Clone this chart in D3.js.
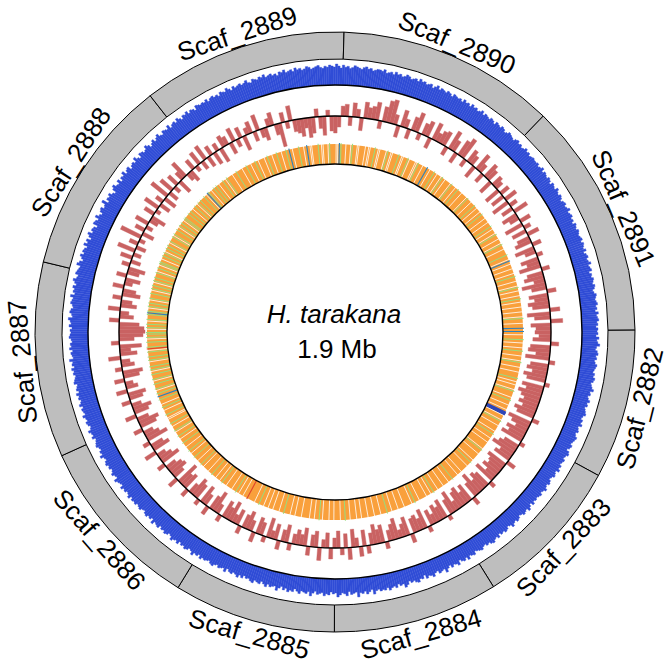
<!DOCTYPE html>
<html>
<head>
<meta charset="utf-8">
<script src="https://cdn.jsdelivr.net/npm/d3@7"></script>
<style>
  html, body { margin: 0; padding: 0; background: #ffffff; }
  svg { display: block; }
  text { font-family: "Liberation Sans", Arial, Helvetica, sans-serif; }
</style>
</head>
<body>
<script>
// ---------------- DATA ----------------
const scaffolds = ["Scaf_2882","Scaf_2883","Scaf_2884","Scaf_2885","Scaf_2886",
                   "Scaf_2887","Scaf_2888","Scaf_2889","Scaf_2890","Scaf_2891"];
const scaffoldKb = [153,156,169,166,180,200,203,210,223,241];
const genomeTitle = "H. tarakana";
const genomeSize = "1.9 Mb";

// outer blue track (windows, clockwise from the start of Scaf_2882)
const blueVals = [
15,16,14,17,15,16,18,15,14,16,17,15,16,14,15,17,16,15,14,16,15,17,16,14,15,16,18,15,16,14,15,17,15,16,14,15,16,17,15,14,
16,15,17,14,15,16,14,15,17,16,15,14,16,15,13,16,17,15,14,16,15,14,16,15,17,14,15,16,14,13,15,16,14,15,17,15,14,16,15,14,
15,14,16,13,15,17,14,15,16,14,13,15,16,14,15,17,14,13,15,16,14,15,13,16,14,15,17,16,14,15,13,14,16,15,14,13,16,15,14,17,
14,16,15,13,17,15,14,16,13,15,18,14,15,16,13,14,17,15,14,16,12,15,14,17,16,14,15,13,16,18,14,15,13,16,14,15,17,14,16,15,
16,14,15,18,13,15,17,14,16,15,19,14,15,16,13,17,15,14,16,18,14,15,13,16,15,17,14,15,16,13,15,18,14,16,15,14,17,15,13,16,
15,17,14,16,13,15,18,14,15,16,14,17,15,13,16,15,14,17,16,14,15,13,16,14,17,15,14,16,15,13,17,14,15,16,14,15,17,16,14,15,
16,15,17,14,16,15,18,15,14,16,17,15,16,14,17,15,16,18,15,14,16,17,15,16,14,17,16,15,18,14,16,15,17,16,14,15,17,16,15,17,
16,17,15,18,16,15,17,16,18,15,16,17,19,15,16,18,16,15,17,16,18,17,15,16,19,16,17,15,16,18,17,16,15,18,16,17,19,16,15,17,
18,16,17,19,16,17,18,16,19,17,16,18,17,19,16,18,17,16,19,18,17,16,18,17,19,16,18,17,20,16,17,18,16,19,17,18,16,17,19,18,
17,18,16,19,17,18,20,16,17,19,18,16,17,19,18,17,20,16,18,17,19,16,18,20,17,16,19,18,17,16,20,18,15,17,19,16,18,17,15,19,
16,18,14,17,19,15,17,16,13,18,17,15,19,16,14,17,18,15,16,20,14,17,16,18,15,13,17,19,16,15,18,14,17,16,19,15,17,18,14,16,
17,15,19,16,14,18,17,15,16,19,17,14,16,18,15,17,19,16,15,18,17,16,19,15,17,18,16,19,17,15,18,17,19,16,18,17,15,19,18,17,
18,17,19,16,18,19,17,18,16,19,18,17,20,18,16,19,17,18,19,17,18,20,17,16,19,18,17,19,18,20,17,18,19,17,18,16,19,18,20,17,
18,19,17,20,18,19,17,18,20,19,17,18,19,20,18,17,19,18,20,19,18,21,19,17,20,18,19,17,18,20,19,18,17,19,20,18,19,17,18,19,
19,18,20,17,18,19,17,20,18,19,17,18,20,19,17,18,19,17,20,18,19,17,18,19,16,18,20,17,19,18,17,19,18,16,19,18,17,18,16,19,
17,18,16,19,17,18,16,17,19,16,18,17,16,18,17,15,18,17,16,18,17,15,16,18,17,16,15,17,18,16,17,15,16,18,16,17,15,16,17,16,
16,17,15,16,18,15,17,16,15,17,16,14,17,16,15,18,16,15,17,16,14,16,17,15,16,18,15,16,17,15,16,14,17,16,15,17,16,15,16,17,
15,17,16,15,17,14,16,17,15,16,18,15,16,17,14,16,15,17,16,15,17,16,14,15,17,16,15,16,17,15,16,14,17,15,16,17,15,16,14,16
];

// middle red track: signed deviation from the black baseline (+ outward, - inward)
const redVals = [
-16,-12,-18,8,-20,-22,-14,-24,6,-18,-21,-15,-23,-19,5,-22,-17,-24,-20,-16,
-20,-15,-22,-18,7,-24,-19,-13,-21,-17,-23,5,-16,-20,-25,-14,-18,9,-21,-17,
-15,-19,-12,-22,6,-17,-20,-14,-24,-16,8,-19,-13,-21,-18,-10,-23,-16,5,-20,
-14,-18,-10,-16,6,-20,-12,-17,-15,9,-19,-13,-8,-21,-16,-11,7,-18,-14,-20,
-12,8,-16,10,-9,-18,12,-14,7,-17,-10,11,-15,-8,13,-16,-12,9,-18,-11,
-15,-10,7,-18,-12,9,-16,-8,-20,6,-13,-17,10,-11,-19,-14,8,-16,-9,-21,
-13,-18,7,-10,-22,-15,9,-12,-19,6,-16,-20,-11,8,-17,-14,-23,10,-12,-18,
-16,-11,8,-20,-14,-9,12,-18,-13,7,-22,-15,-10,9,-17,-21,-12,11,-15,-19,
-10,9,-14,-18,11,-12,-8,10,-16,-20,7,-13,-9,12,-17,-11,-22,8,-15,-24,
-26,-25,-20,10,-14,-9,12,-16,-11,9,-18,-13,11,-8,-15,10,-12,-17,8,-10,
12,-8,18,-10,9,-6,22,-12,10,-7,14,-9,-15,11,-5,16,-11,8,-13,20,
-10,15,-7,12,-14,9,18,-8,-12,11,-6,14,-9,16,-11,10,-13,8,-15,12,
9,-12,14,-8,11,-15,7,12,-10,16,-9,-13,8,13,-11,-24,10,-7,15,-12,
-14,-18,-10,-20,-16,8,-12,-19,6,-15,-17,-11,10,12,-9,14,8,-13,16,11,
13,18,-8,15,22,24,10,-12,17,9,-10,14,20,-7,12,16,-11,18,9,13,
15,-9,20,12,-11,17,22,-8,14,10,-13,18,9,-10,16,12,-14,11,8,-16,
10,-14,13,-18,8,-12,15,-16,-10,11,-19,7,-15,12,-13,-17,9,-20,-11,6,
-18,-13,-22,8,-16,-20,-11,-24,-15,9,-19,-14,-21,-17,10,-23,-16,12,-20,-15
];

// inner gene track: one category code per window
// o = orange, w = gap, g = green, b = blue, B = dark blue, r = red
const geneRows = [
"bowoogowoowogoowoowgoowoowooogowowoowgoo",
"owogoowoowoBBwoowgoowooowogoowoowoooowgo",
"owoooowogoowoooowoowooogoowooowooowoogow",
"oowoooowoogowoooowooowooowoogooowooowooo",
"wooowoowooowoogoowooowoowooowogoowoowooo",
"owooowoowooogoowooowoowoowoogoowooooroow",
"oowogoowooowoogowoowoogoowooowogoowoogoo",
"wogoowoogoowogoowgoowogoowwogoowogowoogo",
"bogowgoogowgoogowgogoowgogoogwrgoogowgog",
"gowgogowgoogbgowgogowgoogowgogowgogoogwo",
"gowggowogogwogogowgoogwgoogowgogowggoogo",
"gowogowgogoogowbgowogogowoogowgooowoogoo",
"owoogoowoogowooowogoowoogoowoogobowooogo",
"owobowwooogowwoowgooowwbgoowoowgoowwooow",
"owwoogowwooowgowwooogowwoogwooowwgoowoob",
"owoogowoowgowooowgoowogoowooowgoowoogowo",
"owogoowoowoogowoowgoowoowgoowooogoowbowo",
"owoowogoowoowgowoowogowoowoowoowgoowoobo"
];
const geneTypes = geneRows.join("").split("");
const geneColors = { w: "#ffffff", g: "#96DE7E", b: "#2B82BE", B: "#2F47B8", r: "#E0452C" };
const geneWidths = { w: 0.8, g: 1.0, b: 1.1, B: 2.4, r: 1.1 };

// ---------------- LAYOUT ----------------
const W = 668, H = 666, cx = 335, cy = 332;
const startDeg = 89.6;
const R = { ringIn: 273, ringOut: 300, label: 314,
            blueBase: 247, redBase: 216, geneIn: 168, geneOut: 188 };

const svg = d3.select("body").append("svg").attr("width", W).attr("height", H);
const g = svg.append("g").attr("transform", `translate(${cx},${cy})`);

const total = d3.sum(scaffoldKb);
const a0 = startDeg * Math.PI / 180;
const ang = d3.scaleLinear().domain([0, total]).range([a0, a0 + 2 * Math.PI]);
const ends = d3.cumsum(scaffoldKb);
const starts = ends.map((e, i) => e - scaffoldKb[i]);

const arc = d3.arc();

// ---- outer scaffold ring ----
g.append("g").selectAll("path").data(scaffolds).join("path")
  .attr("d", (d, i) => arc({ innerRadius: R.ringIn, outerRadius: R.ringOut,
                             startAngle: ang(starts[i]), endAngle: ang(ends[i]) }))
  .attr("fill", "#BEBEBE").attr("stroke", "#000").attr("stroke-width", 1);

// ---- scaffold labels ----
g.append("g").selectAll("text").data(scaffolds).join("text")
  .attr("transform", (d, i) => {
    const deg = ang((starts[i] + ends[i]) / 2) * 180 / Math.PI % 360;
    const flip = deg > 90 && deg < 255;
    return `rotate(${deg}) translate(0,${-R.label})` + (flip ? " rotate(180)" : "");
  })
  .attr("text-anchor", "middle")
  .attr("dominant-baseline", "central")
  .attr("font-size", 26)
  .attr("fill", "#000")
  .text(d => d);

// ---- blue track ----
const blueR = d3.scaleLinear().domain([0, 25]).range([R.blueBase, R.blueBase + 25]);
const bStep = total / blueVals.length;
g.append("g").selectAll("path").data(blueVals).join("path")
  .attr("d", (v, i) => arc({ innerRadius: R.blueBase, outerRadius: blueR(v),
                             startAngle: ang(i * bStep), endAngle: ang((i + 1) * bStep) }))
  .attr("fill", "#2F4CD6").attr("stroke", "#2F4CD6").attr("stroke-width", 0.4);
g.append("circle").attr("r", R.blueBase).attr("fill", "none")
  .attr("stroke", "#000").attr("stroke-width", 1.4);

// ---- red track ----
const redR = d3.scaleLinear().domain([-30, 30]).range([R.redBase - 30, R.redBase + 30]);
const rStep = total / redVals.length;
g.append("g").selectAll("path").data(redVals).join("path")
  .attr("d", (v, i) => arc({ innerRadius: Math.min(R.redBase, redR(v)),
                             outerRadius: Math.max(R.redBase, redR(v)),
                             startAngle: ang(i * rStep), endAngle: ang((i + 1) * rStep) }))
  .attr("fill", "#C96262").attr("stroke", "#C96262").attr("stroke-width", 0.4);
g.append("circle").attr("r", R.redBase).attr("fill", "none")
  .attr("stroke", "#000").attr("stroke-width", 1.4);

// ---- gene track ----
g.append("path")
  .attr("d", arc({ innerRadius: R.geneIn, outerRadius: R.geneOut, startAngle: 0, endAngle: 2 * Math.PI }))
  .attr("fill", "#F9A03C");
const gStep = total / geneTypes.length;
const geneMarks = geneTypes.map((t, i) => ({ t, a: ang((i + 0.5) * gStep) })).filter(d => d.t !== "o");
g.append("g").selectAll("line").data(geneMarks).join("line")
  .attr("x1", d => R.geneIn * Math.sin(d.a))
  .attr("y1", d => -R.geneIn * Math.cos(d.a))
  .attr("x2", d => (R.geneOut + 1) * Math.sin(d.a))
  .attr("y2", d => -(R.geneOut + 1) * Math.cos(d.a))
  .attr("stroke", d => geneColors[d.t])
  .attr("stroke-width", d => geneWidths[d.t]);
g.append("circle").attr("r", R.geneIn).attr("fill", "#fff")
  .attr("stroke", "#000").attr("stroke-width", 1.4);

// ---- centre text ----
g.append("text").attr("x", -1).attr("y", -9).attr("text-anchor", "middle")
  .attr("font-size", 26).attr("font-style", "italic").text(genomeTitle);
g.append("text").attr("x", 2).attr("y", 26).attr("text-anchor", "middle")
  .attr("font-size", 26).text(genomeSize);
</script>
</body>
</html>
